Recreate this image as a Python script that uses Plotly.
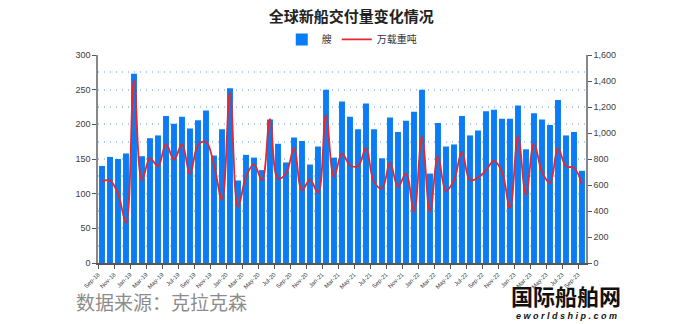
import pandas as pd
import plotly.graph_objects as go

months = [d.strftime("%b-%y") for d in pd.date_range("2018-09-01", "2023-09-01", freq="MS")]

ships = [140, 153, 150, 158, 273, 154, 180, 184, 212, 201, 211, 194, 206, 220, 155, 193,
         252, 119, 156, 152, 134, 207, 172, 145, 181, 176, 142, 168, 250, 152, 233, 211,
         193, 230, 193, 151, 210, 189, 205, 218, 250, 129, 202, 168, 171, 212, 184, 191,
         219, 221, 208, 208, 227, 164, 216, 207, 199, 235, 184, 189, 133]

dwt = [627, 634, 534, 311, 1407, 637, 804, 745, 914, 796, 912, 683, 906, 932, 752, 490,
       1310, 431, 663, 758, 637, 1107, 650, 688, 881, 560, 642, 542, 1138, 663, 842, 752,
       745, 881, 624, 573, 770, 586, 688, 393, 971, 393, 822, 555, 637, 853, 637, 657,
       714, 786, 701, 424, 971, 526, 919, 701, 616, 881, 745, 732, 606]

idx = list(range(len(months)))
tick_idx = idx[::2]
tick_pos = [i - 0.5 for i in tick_idx]
tick_text = [months[i] for i in tick_idx]

fig = go.Figure()
fig.add_trace(go.Bar(x=idx, y=ships, name="艘", marker=dict(color="#0A7CF5", line=dict(width=0)),
                     width=0.74, yaxis="y"))
fig.add_trace(go.Scatter(x=idx, y=dwt, name="万载重吨", mode="lines",
                         line=dict(color="#E8262C", width=1.8, shape="spline", smoothing=1.1),
                         yaxis="y2"))

axis_font = dict(family="Liberation Sans, Arial, sans-serif", size=9, color="#404040")
grid_dash = "1px,5px"

fig.update_layout(
    width=682, height=324,
    margin=dict(l=98, r=96, t=55, b=61),
    paper_bgcolor="white", plot_bgcolor="white",
    title=dict(text="<b>全球新船交付量变化情况</b>", x=0.515, xanchor="center", y=0.947, yanchor="middle",
               font=dict(family="Noto Sans CJK SC", size=15, color="#222222")),
    legend=dict(orientation="h", x=0.52, xanchor="center", y=1.075, yanchor="middle",
                font=dict(family="Noto Sans CJK SC", size=10, color="#333333"),
                bgcolor="rgba(0,0,0,0)", itemwidth=30),
    showlegend=True,
    xaxis=dict(range=[-0.5, 60.5], tickmode="array", tickvals=tick_pos, ticktext=tick_text,
               tickangle=-45, tickfont=dict(family="Liberation Sans, Arial, sans-serif", size=6, color="#404040"),
               showline=True, linecolor="#555555", linewidth=1.5, ticks="outside", ticklen=4,
               tickcolor="#555555", showgrid=False, zeroline=False),
    yaxis=dict(range=[0, 300], tickmode="linear", dtick=50, tick0=0, tickfont=axis_font,
               showline=True, linecolor="#888888", linewidth=1.5, ticks="outside", ticklen=4,
               tickcolor="#555555", showgrid=True, gridcolor="#A9CDF2", griddash=grid_dash, gridwidth=1.5,
               minor=dict(dtick=25, showgrid=True, gridcolor="#A9CDF2", griddash=grid_dash, gridwidth=1.5),
               zeroline=False),
    yaxis2=dict(range=[0, 1600], overlaying="y", side="right", tickmode="linear", dtick=200, tick0=0,
                tickformat=",d", tickfont=axis_font, showline=True, linecolor="#888888", linewidth=1.5,
                ticks="outside", ticklen=4, tickcolor="#555555", showgrid=False, zeroline=False),
)

fig.add_annotation(text="数据来源：克拉克森", xref="paper", yref="paper", x=-0.05, y=-0.11,
                   xanchor="left", yanchor="top", showarrow=False,
                   font=dict(family="Noto Sans CJK SC", size=19, color="#8C8C8C"))
fig.add_annotation(text="<b>国际船舶网</b>", xref="paper", yref="paper", x=0.96, y=-0.065,
                   xanchor="center", yanchor="top", showarrow=False,
                   font=dict(family="Noto Sans CJK SC", size=22, color="#111111"))
fig.add_annotation(text="<b><i>e w o r l d s h i p . c o m</i></b>", xref="paper", yref="paper", x=0.96, y=-0.222,
                   xanchor="center", yanchor="top", showarrow=False,
                   font=dict(family="Liberation Sans, Arial, sans-serif", size=9, color="#111111"))

fig.write_html("out.html")
